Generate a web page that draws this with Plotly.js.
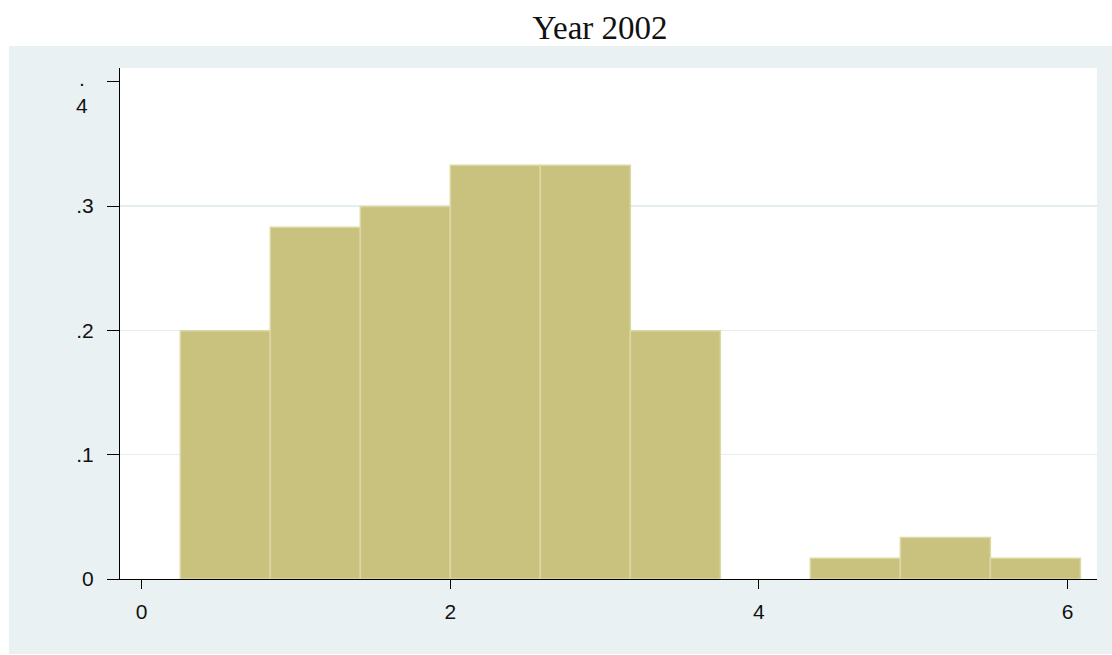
<!DOCTYPE html>
<html>
<head>
<meta charset="utf-8">
<script src="https://cdn.plot.ly/plotly-3.0.1.min.js"></script>
<style>
  html, body { margin: 0; padding: 0; background: #ffffff; }
  #frame { position: absolute; left: 9px; top: 46px; right: 0; bottom: 1px; background: #eaf1f3; }
  #chart { position: absolute; left: 0; top: 0; width: 1112px; height: 655px; }
</style>
</head>
<body>
<div id="frame"></div>
<div id="chart"></div>
<script>
// Histogram of the 2002 observations (density scale)
const binStart = 0.25;
const binWidth = 7 / 12;
const density = [0.1997, 0.2829, 0.2996, 0.3329, 0.3329, 0.1997, 0, 0.0166, 0.0333, 0.0166];

const yTickVals = [0, 0.1, 0.2, 0.3, 0.4];
const yTickText = ['0', '.1', '.2', '.3', ''];
const topTickLabel = '.<br>4';   // the top label wraps onto two lines
const xTickVals = [0, 2, 4, 6];
const xTickText = ['0', '2', '4', '6'];
const gridVals = [0.1, 0.2, 0.3];

const centers = density.map((_, i) => binStart + binWidth * (i + 0.5));

const bars = {
  type: 'bar',
  x: centers,
  y: density,
  width: density.map(() => binWidth),
  marker: {
    color: '#c9c27e',
    line: { color: '#dcd8a4', width: density.map(v => (v > 0 ? 1.5 : 0)) }
  },
  hoverinfo: 'x+y',
  showlegend: false
};

// invisible trace that carries the horizontal grid lines
const gridCarrier = {
  type: 'scatter', x: [0], y: [0], yaxis: 'y2', mode: 'markers',
  marker: { opacity: 0 }, hoverinfo: 'skip', showlegend: false
};

const tickFont = { family: 'Liberation Sans, Arial, sans-serif', size: 21, color: '#111' };

const layout = {
  width: 1112, height: 655,
  margin: { l: 120, r: 15, t: 68, b: 76 },
  paper_bgcolor: 'rgba(0,0,0,0)',
  plot_bgcolor: '#ffffff',
  bargap: 0,
  title: {
    text: 'Year 2002',
    font: { family: 'Liberation Serif, Times New Roman, serif', size: 33, color: '#111' },
    x: 600 / 1112, xref: 'container', xanchor: 'center',
    y: 1 - 27 / 655, yref: 'container', yanchor: 'middle'
  },
  xaxis: {
    range: [-0.1407, 6.191],
    tickmode: 'array', tickvals: xTickVals, ticktext: xTickText,
    ticks: 'outside', ticklen: 9, tickwidth: 1, tickcolor: '#000',
    ticklabelstandoff: 5,
    showline: true, linecolor: '#000', linewidth: 1,
    showgrid: false, zeroline: false,
    tickfont: tickFont
  },
  yaxis: {
    range: [0, 0.4111],
    tickmode: 'array', tickvals: yTickVals, ticktext: yTickText,
    ticks: 'outside', ticklen: 12, tickwidth: 1, tickcolor: '#000',
    ticklabelstandoff: 9,
    showline: true, linecolor: '#000', linewidth: 1,
    showgrid: false, zeroline: false,
    tickfont: tickFont
  },
  yaxis2: {
    overlaying: 'y', range: [0, 0.4111],
    tickmode: 'array', tickvals: gridVals,
    showticklabels: false, ticks: '',
    showgrid: true, gridcolor: '#e4edf0', gridwidth: 1.5,
    zeroline: false, showline: false, layer: 'below traces'
  },
  annotations: [{
    text: topTickLabel, font: tickFont,
    xref: 'paper', x: 0, xanchor: 'center', xshift: -38,
    yref: 'y', y: yTickVals[4], yanchor: 'top', yshift: 17,
    showarrow: false, align: 'center'
  }]
};

Plotly.newPlot('chart', [gridCarrier, bars], layout, { displayModeBar: false, staticPlot: true });
</script>
</body>
</html>
